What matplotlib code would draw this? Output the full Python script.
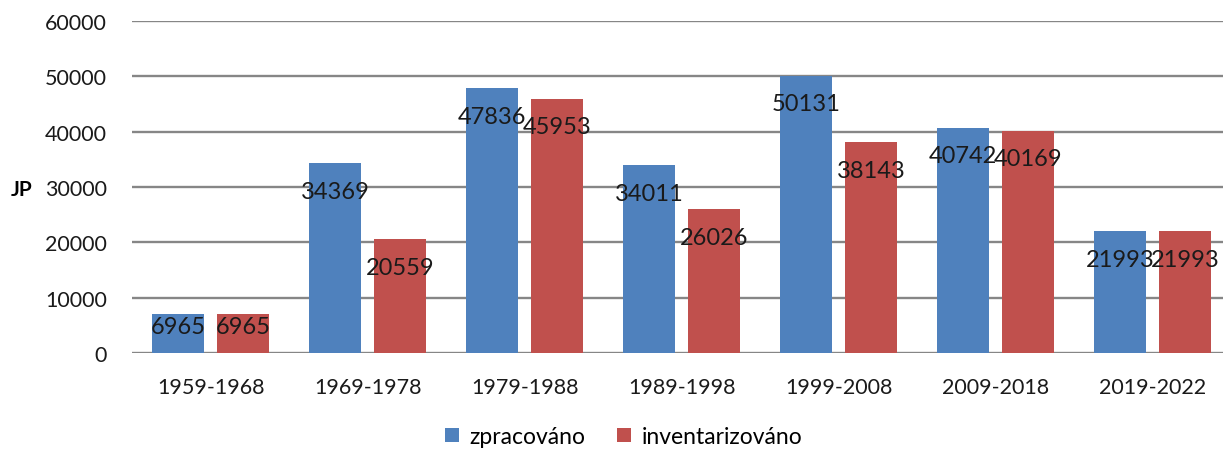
import numpy as np
import matplotlib
matplotlib.use("Agg")
from matplotlib import pyplot as plt

periods = ["1959-1968", "1969-1978", "1979-1988", "1989-1998",
           "1999-2008", "2009-2018", "2019-2022"]
zpracovano = [6965, 34369, 47836, 34011, 50131, 40742, 21993]
inventarizovano = [6965, 20559, 45953, 26026, 38143, 40169, 21993]

BLUE = "#4F81BD"
RED = "#C0504D"
GRID = "#868686"

plt.rcParams['font.family'] = ['Lato', 'DejaVu Sans']

fig = plt.figure(figsize=(12.23, 4.52), dpi=100)
ax = fig.add_axes([0.108, 0.2168, 0.8986, 0.7345])

x = np.arange(len(periods))
w = 0.331
off = 0.207
b1 = ax.bar(x - off, zpracovano, w, color=BLUE, label="zpracováno", zorder=2)
b2 = ax.bar(x + off, inventarizovano, w, color=RED, label="inventarizováno", zorder=2)

# data labels sit a bit under the bar top (like Excel "inside end")
for xs, vals in ((x - off, zpracovano), (x + off, inventarizovano)):
    for xi, v in zip(xs, vals):
        ax.text(xi, v - min(5100, 0.3 * v), str(v), ha="center", va="center",
                fontsize=17, color="#1a1a1a", zorder=3)

ax.set_xlim(-0.5, len(periods) - 0.5)
ax.set_ylim(0, 60000)
ax.set_yticks(range(0, 60001, 10000))
ax.yaxis.grid(True, color=GRID, linewidth=1.7, zorder=0)
ax.set_axisbelow(True)
for s in ax.spines.values():
    s.set_visible(False)
ax.tick_params(axis="both", length=0, labelsize=15.5, colors="#1a1a1a")
ax.tick_params(axis="y", pad=18)
ax.tick_params(axis="x", pad=17)
ax.set_xticks(x)
ax.set_xticklabels(periods)

fig.text(0.009, 0.58, "JP", fontsize=15, fontweight="bold", va="center", ha="left")

fig.legend(handles=[b1, b2], loc="center", bbox_to_anchor=(0.510, 0.032),
           ncol=2, frameon=False, fontsize=16.5, handlelength=0.6, handleheight=0.6,
           handletextpad=0.45, columnspacing=1.4)

fig.savefig("out.png", dpi=100)
